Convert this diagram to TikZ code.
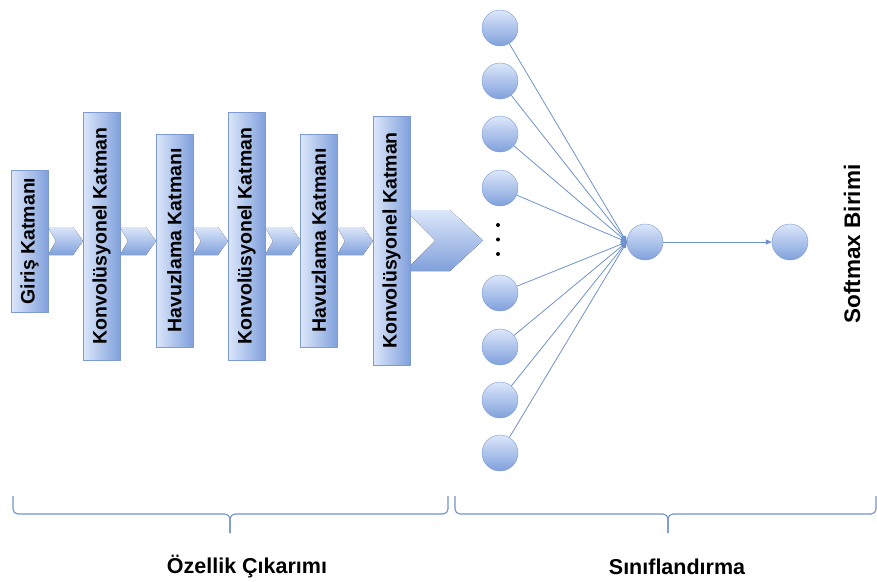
\documentclass[tikz,border=0pt]{standalone}
\usepackage{fontspec}
\setmainfont{Liberation Sans}
\usetikzlibrary{positioning,arrows.meta}

\definecolor{edgeblue}{RGB}{125,155,210}
\definecolor{paleblue}{RGB}{220,231,250}
\definecolor{deepblue}{RGB}{128,160,220}
\definecolor{lineblue}{RGB}{112,146,204}

\tikzset{
  layer/.style={draw=edgeblue, left color=paleblue, right color=deepblue, rotate=90,
    minimum height=37pt, inner sep=0pt, font=\bfseries\fontsize{19.5}{19.5}\selectfont},
  unit/.style={circle, draw=edgeblue, top color=paleblue, bottom color=deepblue,
    minimum size=36pt, inner sep=0pt},
  chevfill/.style={top color=paleblue, bottom color=deepblue, draw=none},
  link/.style={lineblue, line width=0.8pt, -{Triangle[length=6pt,width=5pt]}},
  bracepath/.style={lineblue, line width=1.1pt, rounded corners=5pt},
  caption/.style={font=\bfseries\fontsize{21.5}{21.5}\selectfont}
}

\begin{document}
\begin{tikzpicture}[x=1pt,y=-1pt]

    \useasboundingbox (0,0) rectangle (877,581);

    %chevrons between the layers
    \foreach \xa/\xb in {48/83,120/156,193/228,265/301,337/373} {
      \fill[chevfill] (\xa,227) -- (\xb-10,227) -- (\xb,241) -- (\xb-10,255)
        -- (\xa,255) -- (\xa+8,241) -- cycle;
    }
    \fill[chevfill] (405,210) -- (450,210) -- (483,240.5) -- (450,271)
      -- (405,271) -- (435,240.5) -- cycle;

    %feature layers
    \node[layer, minimum width=142pt] (giris) at (29.5,241) {Giriş Katmanı};
    \node[layer, minimum width=248pt] (konv1) at (101.5,236) {Konvolüsyonel Katman};
    \node[layer, minimum width=213pt] (havuz1) at (174.5,240.5) {Havuzlama Katmanı};
    \node[layer, minimum width=248pt] (konv2) at (246.5,236) {Konvolüsyonel Katman};
    \node[layer, minimum width=213pt] (havuz2) at (319,240.5) {Havuzlama Katmanı};
    \node[layer, minimum width=249pt] (konv3) at (391.5,240.5) {Konvolüsyonel Katman};

    %classifier units
    \foreach \i/\y in {1/28,2/81,3/134,4/188,5/293,6/347,7/400,8/453} {
      \node[unit] (in\i) at (500,\y) {};
    }
    \foreach \y in {225,239.5,254} {
      \fill (498,\y) circle (2pt);
    }
    \node[unit] (hid) at (645,242) {};
    \node[unit] (out) at (790,242) {};

    \foreach \i in {1,...,8} {
      \draw[link] (in\i) -- (hid.west);
    }
    \draw[link] (hid) -- (out);

    \node[rotate=90, font=\bfseries\fontsize{22.5}{22.5}\selectfont] (softmax) at (852,244) {Softmax Birimi};

    %braces
    \draw[bracepath] (13,496) |- (230,514) -- (230,533);
    \draw[bracepath] (448,496) |- (230,514) -- (230,533);
    \draw[bracepath] (455,496) |- (668,514) -- (668,533);
    \draw[bracepath] (876,496) |- (668,514) -- (668,533);

    \node[caption] (ozellik) at (247,567) {Özellik Çıkarımı};
    \node[caption] (sinif) at (677,567) {Sınıflandırma};

\end{tikzpicture}
\end{document}
